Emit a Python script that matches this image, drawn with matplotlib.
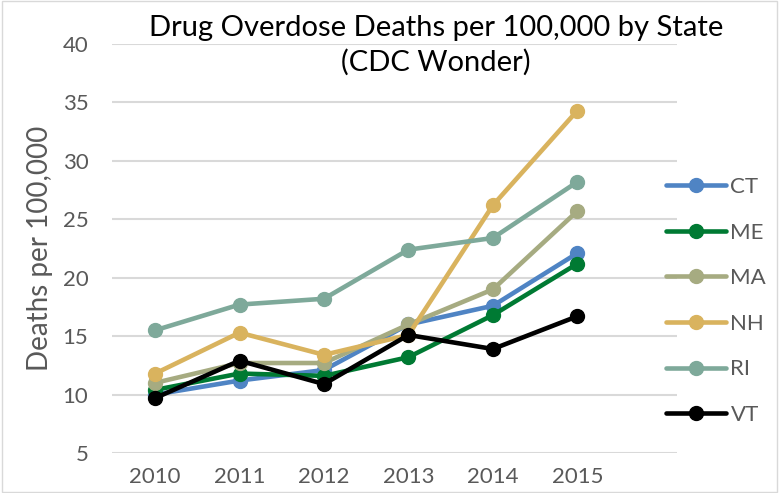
import matplotlib
matplotlib.use("Agg")
import matplotlib.pyplot as plt

years = ["2010", "2011", "2012", "2013", "2014", "2015"]
states = ["CT", "ME", "MA", "NH", "RI", "VT"]
ct = [10.0, 11.2, 12.1, 16.0, 17.6, 22.1]
me = [10.4, 11.8, 11.6, 13.2, 16.8, 21.2]
ma = [11.0, 12.7, 12.7, 16.0, 19.0, 25.7]
nh = [11.8, 15.3, 13.4, 15.1, 26.2, 34.3]
ri = [15.5, 17.7, 18.2, 22.4, 23.4, 28.2]
vt = [9.7, 12.9, 10.9, 15.1, 13.9, 16.7]
colors = ["#4F84C4", "#007A33", "#A6AB81", "#D9B35E", "#7EA99A", "#000000"]

plt.rcParams["font.family"] = ["Lato", "DejaVu Sans"]

fig = plt.figure(figsize=(7.79, 4.93), dpi=100)
W, H = 779, 493
ax = fig.add_axes([112 / W, (H - 453) / H, (677 - 112) / W, (453 - 44) / H])

x = list(range(len(years)))
for name, vals, c in zip(states, [ct, me, ma, nh, ri, vt], colors):
    ax.plot(x, vals, color=c, lw=3.3, marker="o", ms=10, label=name,
            solid_capstyle="round", solid_joinstyle="round", clip_on=False)

ax.set_ylim(5, 40)
ax.set_yticks(range(5, 41, 5))
ax.set_xlim(-0.51, 6.18)
ax.set_xticks(x)
ax.set_xticklabels(years)
ax.grid(axis="y", color="#D9D9D9", lw=1.5)
ax.set_axisbelow(True)
for s in ax.spines.values():
    s.set_visible(False)
ax.tick_params(length=0, labelsize=16, colors="#595959", pad=10)
ax.tick_params(axis="y", pad=17)
ax.set_ylabel("Deaths per 100,000", fontsize=20, color="#595959", labelpad=7)

fig.text(436 / W, 1 - 28 / H, "Drug Overdose Deaths per 100,000 by State",
         ha="center", va="center", fontsize=21, color="#000000")
fig.text(436 / W, 1 - 62 / H, "(CDC Wonder)",
         ha="center", va="center", fontsize=21, color="#000000")

leg = ax.legend(loc="center left", bbox_to_anchor=(666 / W, 1 - 301 / H),
                bbox_transform=fig.transFigure, frameon=False, fontsize=16,
                labelcolor="#595959", handlelength=2.7, handletextpad=0.2,
                labelspacing=1.15, borderpad=0, borderaxespad=0)

fig.add_artist(plt.Rectangle((0.002, 0.002), 0.996, 0.996, transform=fig.transFigure,
                             fill=False, edgecolor="#D9D9D9", lw=1))

fig.savefig("out.png", dpi=100)
